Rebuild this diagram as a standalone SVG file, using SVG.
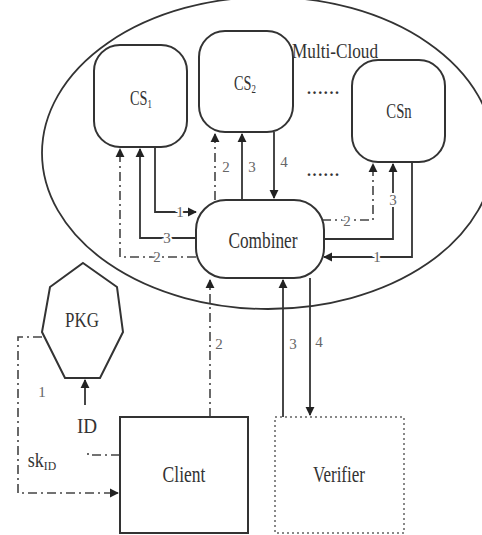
<svg xmlns="http://www.w3.org/2000/svg" width="482" height="535" viewBox="0 0 482 535">
<defs>
<marker id="ah" viewBox="0 0 10 10" refX="9" refY="5" markerWidth="9" markerHeight="10" markerUnits="userSpaceOnUse" orient="auto">
<path d="M0,0 L10,5 L0,10 z" fill="#222"/>
</marker>
<style>
.box{fill:#fff;stroke:#333;stroke-width:2}
.ln{fill:none;stroke:#333;stroke-width:1.8}
.dd{fill:none;stroke:#444;stroke-width:1.6;stroke-dasharray:9,4,2,4}
.t{font-family:"Liberation Serif",serif;fill:#333;text-anchor:middle}
.dots{font-family:"Liberation Serif",serif;fill:#333;font-size:16px;font-weight:bold;letter-spacing:1.6px}
.n{font-family:"Liberation Serif",serif;font-size:15px;fill:#666;text-anchor:middle;paint-order:stroke;stroke:#fff;stroke-width:4px}
</style>
</defs>
<rect width="482" height="535" fill="#fff"/>
<g id="multi-cloud">
<ellipse cx="268" cy="153" rx="226" ry="156" fill="none" stroke="#333" stroke-width="1.8"/>
<text class="t" transform="translate(335,58) scale(0.82,1)" font-size="21">Multi-Cloud</text>
<text class="dots" x="307" y="94">......</text>
<text class="dots" x="307" y="176">......</text>
</g>
<g id="connectors">
<polyline class="dd" points="196,257 120,257 120,149" marker-end="url(#ah)"/>
<polyline class="ln" points="196,238 140,238 140,149" marker-end="url(#ah)"/>
<polyline class="ln" points="155,147 155,212 196,212" marker-end="url(#ah)"/>
<line class="dd" x1="215" y1="200" x2="215" y2="134" marker-end="url(#ah)"/>
<line class="ln" x1="242" y1="200" x2="242" y2="134" marker-end="url(#ah)"/>
<line class="ln" x1="274" y1="132" x2="274" y2="198" marker-end="url(#ah)"/>
<polyline class="dd" points="322,220 373,220 373,164" marker-end="url(#ah)"/>
<polyline class="ln" points="324,239 393,239 393,164" marker-end="url(#ah)"/>
<polyline class="ln" points="412,162 412,257 324,257" marker-end="url(#ah)"/>
<line class="dd" x1="210" y1="417" x2="210" y2="280" marker-end="url(#ah)"/>
<line class="ln" x1="283" y1="417" x2="283" y2="280" marker-end="url(#ah)"/>
<line class="ln" x1="310" y1="278" x2="310" y2="415" marker-end="url(#ah)"/>
<line class="ln" x1="85" y1="405" x2="85" y2="380" marker-end="url(#ah)"/>
<polyline class="dd" points="120,455 88,455 88,451"/>
<polyline class="dd" points="42,337 18,337 18,493 118,493" marker-end="url(#ah)"/>
<text class="n" x="180" y="217">1</text>
<text class="n" x="167" y="243">3</text>
<text class="n" x="157" y="262">2</text>
<text class="n" x="226" y="172">2</text>
<text class="n" x="252" y="172">3</text>
<text class="n" x="284" y="167">4</text>
<text class="n" x="347" y="226">2</text>
<text class="n" x="393" y="205">3</text>
<text class="n" x="377" y="262">1</text>
<text class="n" x="219" y="349">2</text>
<text class="n" x="293" y="349">3</text>
<text class="n" x="319" y="347">4</text>
<text class="n" x="42" y="397">1</text>
</g>
<g id="cs1">
<rect class="box" x="94" y="45" width="93" height="102" rx="26"/>
<text class="t" transform="translate(141,105) scale(0.68,1)" font-size="21">CS<tspan font-size="13" dy="3">1</tspan></text>
</g>
<g id="cs2">
<rect class="box" x="199" y="31" width="94" height="101" rx="26"/>
<text class="t" transform="translate(245,90) scale(0.68,1)" font-size="21">CS<tspan font-size="13" dy="3">2</tspan></text>
</g>
<g id="csn">
<rect class="box" x="352" y="60" width="93" height="102" rx="26"/>
<text class="t" transform="translate(399,118) scale(0.7,1)" font-size="21">CSn</text>
</g>
<g id="combiner">
<rect class="box" x="196" y="200" width="128" height="78" rx="30"/>
<text class="t" transform="translate(263,248) scale(0.72,1)" font-size="24">Combiner</text>
</g>
<g id="pkg">
<polygon class="box" points="83,263 117,287 123,332 100,378 65,378 42,332 50,287"/>
<text class="t" transform="translate(82,327) scale(0.77,1)" font-size="22">PKG</text>
</g>
<g id="id-label">
<text class="t" transform="translate(87,433) scale(0.87,1)" font-size="22">ID</text>
<text class="t" transform="translate(42,467) scale(0.9,1)" font-size="20">sk<tspan font-size="13" dy="3">ID</tspan></text>
</g>
<g id="client">
<rect class="box" x="120" y="417" width="128" height="116"/>
<text class="t" transform="translate(184,482) scale(0.73,1)" font-size="24">Client</text>
</g>
<g id="verifier">
<rect x="275" y="417" width="129" height="116" fill="#fff" stroke="#888" stroke-width="2" stroke-dasharray="2,3"/>
<text class="t" transform="translate(339,482) scale(0.71,1)" font-size="24">Verifier</text>
</g>
</svg>
